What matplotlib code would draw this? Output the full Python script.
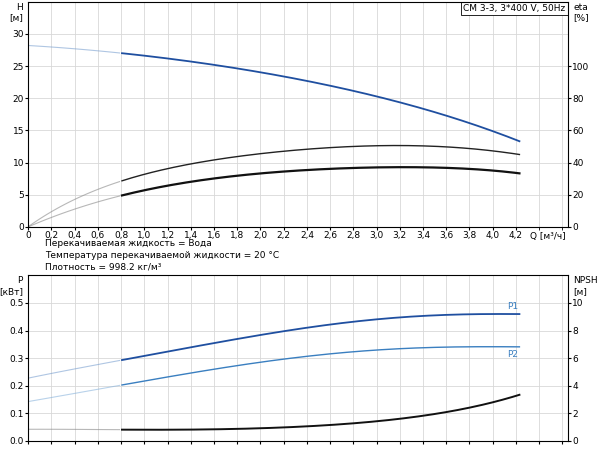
import numpy as np
import matplotlib
matplotlib.use("Agg")
import matplotlib.pyplot as plt

q = [0.0, 0.4, 0.8, 1.2, 1.6, 2.0, 2.4, 2.8, 3.2, 3.6, 4.0, 4.23]
head = [28.2, 27.7, 27.0, 26.2, 25.2, 24.0, 22.7, 21.2, 19.3, 17.3, 14.9, 13.3]
eta_total = [0.0, 17.2, 28.4, 36.0, 41.6, 45.6, 48.4, 50.0, 50.4, 49.6, 47.6, 44.8]
eta_pump = [0.0, 10.8, 19.6, 25.6, 30.0, 33.2, 35.2, 36.8, 37.2, 36.4, 35.2, 33.2]
p1 = [0.228, 0.26, 0.295, 0.322, 0.355, 0.385, 0.41, 0.432, 0.448, 0.457, 0.46, 0.46]
p2 = [0.143, 0.172, 0.203, 0.232, 0.26, 0.285, 0.307, 0.324, 0.334, 0.34, 0.342, 0.341]
npsh = [0.85, 0.84, 0.82, 0.82, 0.85, 0.92, 1.05, 1.3, 1.6, 2.1, 2.8, 3.35]
q_ticks = [0.0, 0.2, 0.4, 0.6, 0.8, 1.0, 1.2, 1.4, 1.6, 1.8, 2.0, 2.2, 2.4, 2.6, 2.8,
           3.0, 3.2, 3.4, 3.6, 3.8, 4.0, 4.2]

BLUE = "#1f4fa0"
LBLUE = "#3a7fc0"
FS = 6.5


def smooth(xs, ys):
    x = np.linspace(xs[0], xs[-1], 200)
    coef = np.polyfit(xs, ys, 5)
    return x, np.polyval(coef, x)


def draw(ax, xs, ys, color, lw, faint_color=None):
    x, y = smooth(xs, ys)
    m = x <= 0.8
    ax.plot(x[m], y[m], color=faint_color or color, lw=0.8, alpha=0.6)
    ax.plot(x[x >= 0.8], y[x >= 0.8], color=color, lw=lw)


def style(ax):
    ax.set_xlim(0, 4.65)
    ax.set_xticks(np.arange(0, 4.61, 0.2))
    ax.grid(True, color="#d8d8d8", lw=0.6)
    ax.tick_params(labelsize=FS, length=2, pad=1)
    for s in ax.spines.values():
        s.set_linewidth(0.6)


fig = plt.figure(figsize=(6, 4.5), dpi=100)
ax1 = fig.add_axes([0.047, 0.496, 0.9, 0.5])
style(ax1)
ax1.set_ylim(0, 35)
ax1.set_yticks([0, 5, 10, 15, 20, 25, 30])
ax1.set_xticks(q_ticks)
ax1.set_xticklabels([f"{v:.1f}".replace(".", ",") if v else "0" for v in q_ticks])
ax1.set_xticks(np.arange(0, 4.61, 0.2), minor=True)
ax1.grid(True, which="minor", axis="x", color="#d8d8d8", lw=0.6)
draw(ax1, q, head, BLUE, 1.3, "#7aa0d0")
draw(ax1, q, [e / 4 for e in eta_total], "#222222", 1.0, "#888888")
draw(ax1, q, [e / 4 for e in eta_pump], "#111111", 1.6, "#888888")
ax1r = ax1.twinx()
ax1r.set_ylim(0, 140)
ax1r.set_yticks([0, 20, 40, 60, 80, 100])
ax1r.tick_params(labelsize=FS, length=2, pad=1)
ax1.text(-0.01, 0.995, "H\n[м]", transform=ax1.transAxes, ha="right", va="top", fontsize=FS)
ax1r.text(1.01, 0.995, "eta\n[%]", transform=ax1.transAxes, ha="left", va="top", fontsize=FS)
ax1.text(0.995, 0.99, "CM 3-3, 3*400 V, 50Hz", transform=ax1.transAxes, ha="right", va="top",
         fontsize=FS, bbox=dict(facecolor="white", edgecolor="black", lw=0.6, pad=1.5))
ax1.text(0.995, -0.025, "Q [м³/ч]", transform=ax1.transAxes, ha="right", va="top", fontsize=FS)

fig.text(0.075, 0.458, "Перекачиваемая жидкость = Вода", fontsize=FS, va="center")
fig.text(0.075, 0.432, "Температура перекачиваемой жидкости = 20 °C", fontsize=FS, va="center")
fig.text(0.075, 0.406, "Плотность = 998.2 кг/м³", fontsize=FS, va="center")

ax2 = fig.add_axes([0.047, 0.02, 0.9, 0.368])
style(ax2)
ax2.set_ylim(0, 0.6)
ax2.set_yticks([0.0, 0.1, 0.2, 0.3, 0.4, 0.5])
ax2.set_yticklabels(["0.0", "0.1", "0.2", "0.3", "0.4", "0.5"])
ax2.tick_params(labelbottom=False)
draw(ax2, q, p1, BLUE, 1.3, "#7aa0d0")
draw(ax2, q, p2, LBLUE, 1.0, "#8ab4dc")
ax2r = ax2.twinx()
ax2r.set_ylim(0, 12)
ax2r.set_yticks([0, 2, 4, 6, 8, 10])
ax2r.tick_params(labelsize=FS, length=2, pad=1)
draw(ax2r, q, npsh, "#111111", 1.4, "#888888")
ax2.text(4.22, p1[-1] + 0.012, "P1", color=LBLUE, fontsize=FS, ha="right", va="bottom")
ax2.text(4.22, p2[-1] - 0.012, "P2", color=LBLUE, fontsize=FS, ha="right", va="top")
ax2.text(-0.01, 0.995, "P\n[кВт]", transform=ax2.transAxes, ha="right", va="top", fontsize=FS)
ax2r.text(1.01, 0.995, "NPSH\n[м]", transform=ax2.transAxes, ha="left", va="top", fontsize=FS)

fig.savefig("out.png", dpi=100)
